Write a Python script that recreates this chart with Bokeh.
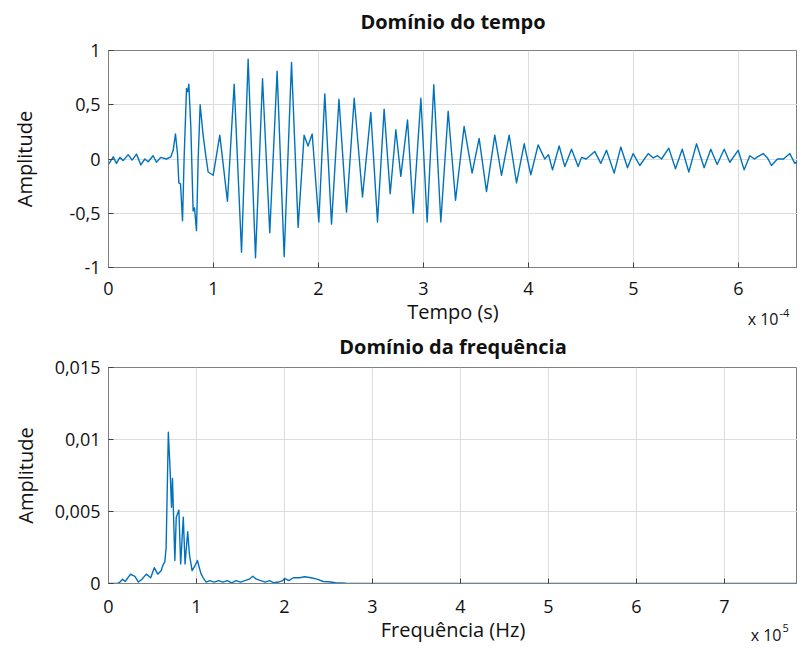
from bokeh.plotting import figure
from bokeh.models import FixedTicker, Label, Range1d
from bokeh.layouts import column
from bokeh.embed import file_html
from bokeh.resources import INLINE

# ---- Time-domain signal (time in units of 1e-4 s) ----
time_x = [0.00, 0.045, 0.076, 0.108, 0.14, 0.187, 0.225, 0.267, 0.308, 0.346, 0.378, 0.425,
          0.457, 0.498, 0.552, 0.594, 0.616, 0.638, 0.657, 0.67, 0.686, 0.705, 0.72, 0.743,
          0.755, 0.765, 0.784, 0.806, 0.819, 0.838, 0.854, 0.873, 0.901, 0.924, 0.949, 0.997,
          1.06, 1.133, 1.197, 1.267, 1.33, 1.40, 1.467, 1.536, 1.606, 1.673, 1.743, 1.806,
          1.863, 1.90, 1.94, 2.003, 2.06, 2.124, 2.195, 2.267, 2.34, 2.419, 2.498, 2.562,
          2.625, 2.683, 2.737, 2.784, 2.848, 2.902, 2.975, 3.035, 3.098, 3.165, 3.235, 3.305,
          3.387, 3.463, 3.53, 3.60, 3.679, 3.743, 3.816, 3.886, 3.959, 4.022, 4.092, 4.155,
          4.19, 4.229, 4.292, 4.346, 4.41, 4.473, 4.505, 4.55, 4.631, 4.689, 4.743, 4.816,
          4.879, 4.943, 4.997, 5.06, 5.14, 5.188, 5.229, 5.267, 5.336, 5.40, 5.464, 5.527,
          5.60, 5.673, 5.736, 5.797, 5.864, 5.917, 5.997, 6.054, 6.108, 6.152, 6.18, 6.235,
          6.276, 6.314, 6.371, 6.429, 6.489, 6.536, 6.562]
time_amp = [-0.05, 0.02, -0.04, 0.015, -0.015, 0.04, -0.01, 0.045, -0.055, 0.0, -0.025, 0.03,
            -0.03, 0.015, 0.0, 0.02, 0.08, 0.23, 0.05, -0.22, -0.23, -0.57, 0.0, 0.65,
            0.62, 0.69, 0.30, -0.48, -0.45, -0.66, 0.0, 0.50, 0.22, 0.05, -0.12, -0.15,
            0.22, -0.39, 0.69, -0.86, 0.92, -0.91, 0.74, -0.68, 0.81, -0.90, 0.89, -0.63,
            0.22, 0.12, 0.23, -0.58, 0.60, -0.60, 0.55, -0.49, 0.56, -0.35, 0.43, -0.58,
            0.46, -0.32, 0.27, -0.16, 0.36, -0.50, 0.56, -0.58, 0.685, -0.58, 0.44, -0.38,
            0.30, -0.13, 0.19, -0.30, 0.22, -0.15, 0.22, -0.22, 0.14, -0.145, 0.13, 0.0,
            0.04, -0.10, 0.12, -0.07, 0.09, -0.07, 0.015, 0.0, 0.07, -0.04, 0.08, -0.13,
            0.11, -0.08, 0.05, -0.06, 0.05, 0.01, 0.03, 0.0, 0.10, -0.09, 0.09, -0.12,
            0.14, -0.08, 0.09, -0.05, 0.09, -0.03, 0.08, -0.10, 0.03, 0.0, 0.02, 0.05,
            0.01, -0.06, 0.0, 0.0, 0.05, -0.04, -0.02]

# ---- Frequency-domain spectrum (frequency in units of 1e5 Hz) ----
freq_x = [0.0, 0.10, 0.13, 0.16, 0.19, 0.25, 0.30, 0.34, 0.38, 0.43, 0.48, 0.52, 0.56, 0.60,
          0.62, 0.64, 0.655, 0.68, 0.70, 0.716, 0.727, 0.754, 0.77, 0.80, 0.82, 0.85, 0.87,
          0.90, 0.92, 0.95, 0.98, 1.01, 1.05, 1.08, 1.11, 1.15, 1.20, 1.25, 1.30, 1.35, 1.40,
          1.45, 1.50, 1.55, 1.60, 1.64, 1.68, 1.73, 1.78, 1.83, 1.88, 1.93, 1.98, 2.00, 2.05,
          2.10, 2.17, 2.23, 2.30, 2.37, 2.44, 2.50, 2.58, 2.70, 3.00, 7.83]
freq_amp = [0.0, 0.0, 0.0001, 0.0003, 0.00014, 0.00065, 0.0005, 0.0001, 0.0003, 0.00065, 0.0004,
            0.0011, 0.00065, 0.0009, 0.0013, 0.0015, 0.0025, 0.0105, 0.0079, 0.0053, 0.0073,
            0.0016, 0.0046, 0.0051, 0.00135, 0.0046, 0.00135, 0.0036, 0.002, 0.0009, 0.0012,
            0.0016, 0.0007, 0.00035, 0.0001, 0.0002, 0.0001, 0.0002, 0.0001, 0.0002, 0.00005,
            0.0002, 0.0001, 0.0002, 0.0003, 0.0005, 0.0003, 0.0002, 0.0001, 0.0002, 0.00005,
            0.0001, 0.0002, 0.00035, 0.0002, 0.0004, 0.0004, 0.00047, 0.0004, 0.0003, 0.00014,
            0.00012, 0.00005, 0.00002, 0.0, 0.0]

time_ticks = [0, 1, 2, 3, 4, 5, 6]
time_yticks = [-1, -0.5, 0, 0.5, 1]
time_ylabels = ["-1", "-0,5", "0", "0,5", "1"]
freq_ticks = [0, 1, 2, 3, 4, 5, 6, 7]
freq_yticks = [0, 0.005, 0.01, 0.015]
freq_ylabels = ["0", "0,005", "0,01", "0,015"]

LINE = "#0072BD"
GRAY = "#7f7f7f"
FONT = "Open Sans"
TXT = "#111111"


def style(p, xticks, yticks, ylabels, xlab_standoff, xaxis_standoff, yaxis_standoff):
    p.outline_line_color = GRAY
    p.outline_line_width = 1
    p.background_fill_color = "white"
    p.border_fill_color = "white"
    for ax in (p.xaxis[0], p.yaxis[0]):
        ax.axis_line_color = GRAY
        ax.major_tick_line_color = "#404040"
        ax.major_tick_in = 5
        ax.major_tick_out = 0
        ax.minor_tick_line_color = None
        ax.major_label_text_font = FONT
        ax.major_label_text_font_size = "18px"
        ax.major_label_text_color = TXT
        ax.axis_label_text_font = FONT
        ax.axis_label_text_font_size = "20px"
        ax.axis_label_text_font_style = "normal"
        ax.axis_label_text_color = TXT
    p.xaxis[0].ticker = FixedTicker(ticks=xticks)
    p.yaxis[0].ticker = FixedTicker(ticks=yticks)
    p.yaxis[0].major_label_overrides = {v: s for v, s in zip(yticks, ylabels)}
    p.xaxis[0].major_label_standoff = xlab_standoff
    p.yaxis[0].major_label_standoff = 8
    p.yaxis[0].axis_label_standoff = yaxis_standoff
    p.xaxis[0].axis_label_standoff = xaxis_standoff
    for g in (p.xgrid[0], p.ygrid[0]):
        g.grid_line_color = "#dddddd"
        g.grid_line_width = 1


def add_text(p, x, y, text, size, align, side, bold=False):
    p.add_layout(Label(x=x, y=y, text=text, text_font=FONT, text_font_size=size,
                       text_font_style="bold" if bold else "normal",
                       text_align=align, text_baseline="middle", text_color=TXT), side)


# ---------------- top: time domain ----------------
p1 = figure(width=849, height=333, output_backend="svg", toolbar_location=None,
            x_range=Range1d(0, 6.562), y_range=Range1d(-1, 1),
            min_border_left=160, min_border_right=0, min_border_top=50, min_border_bottom=66)
p1.line(time_x, time_amp, line_color=LINE, line_width=1.4, line_join="round")
p1.xaxis.axis_label = "Tempo (s)"
p1.yaxis.axis_label = "Amplitude"
style(p1, time_ticks, time_yticks, time_ylabels, 14, 0, 28)
add_text(p1, 3.281, 1.267, "Domínio do tempo", "20px", "center", "above", bold=True)
add_text(p1, 6.381, -1.479, "x 10", "16px", "right", "left")
add_text(p1, 6.39, -1.415, "-4", "11px", "left", "left")

# ---------------- bottom: frequency domain ----------------
p2 = figure(width=849, height=313, output_backend="svg", toolbar_location=None,
            x_range=Range1d(0, 7.83), y_range=Range1d(0, 0.015),
            min_border_left=160, min_border_right=0, min_border_top=34, min_border_bottom=63)
p2.line(freq_x, freq_amp, line_color=LINE, line_width=1.4, line_join="round")
p2.xaxis.axis_label = "Frequência (Hz)"
p2.yaxis.axis_label = "Amplitude"
style(p2, freq_ticks, freq_yticks, freq_ylabels, 16, 0, 13)
add_text(p2, 3.915, 0.016458, "Domínio da frequência", "20px", "center", "above", bold=True)
add_text(p2, 7.648, -0.003611, "x 10", "16px", "right", "left")
add_text(p2, 7.66, -0.003056, "5", "11px", "left", "left")

layout = column(p1, p2, spacing=0, margin=(0, 0, 0, -52))
open("out.html", "w").write(file_html(layout, INLINE))
